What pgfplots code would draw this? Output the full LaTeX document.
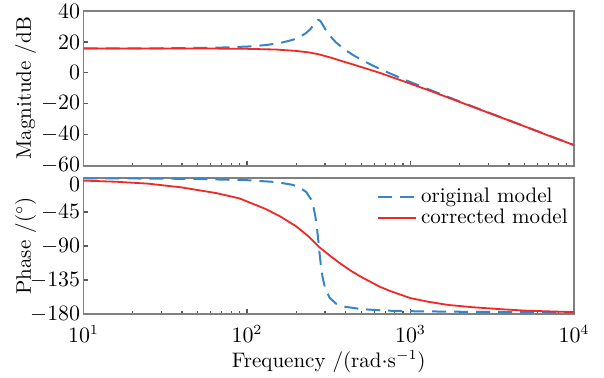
\documentclass[border=0pt]{standalone}
\usepackage{pgfplots}
\pgfplotsset{compat=1.18}
\definecolor{myblue}{RGB}{52,134,200}
\definecolor{myred}{RGB}{240,40,40}
\definecolor{framegray}{RGB}{128,128,128}

\pgfplotstableread{
w mag
10 15.81
20 15.85
40 15.98
70 16.38
100 17.02
130 17.97
160 19.34
190 21.33
210 23.20
230 25.78
245 28.48
255 30.74
262 32.46
268 33.70
272 34.17
275 34.22
278 33.98
283 33.07
290 31.24
300 28.54
320 24.19
350 19.70
400 14.74
450 11.25
500 8.51
600 4.27
700 1.01
850 -2.85
1000 -5.95
1500 -13.38
2000 -18.50
3000 -25.64
5000 -34.56
7000 -40.42
10000 -46.62
}\origmag

\pgfplotstableread{
w mag
10 15.80
30 15.79
60 15.74
100 15.55
150 15.10
200 14.20
240 13.20
275 12.00
320 10.10
371 8.00
450 5.30
550 2.40
650 0.00
800 -3.40
1000 -7.00
1400 -12.60
2000 -18.80
3000 -25.80
5000 -34.60
7000 -40.60
10000 -46.70
}\corrmag

\pgfplotstableread{
w ph
10 -0.3
30 -0.8
50 -1.3
100 -2.9
150 -5.3
190 -9.0
210 -12.4
230 -18.5
245 -27.4
255 -38.4
262 -51.1
268 -66.7
272 -79.6
275 -90.0
278 -100.2
283 -115.5
290 -131.5
300 -145.4
320 -158.5
350 -166.2
400 -170.5
500 -173.5
700 -175.5
1000 -176.3
2000 -177.0
5000 -177.5
10000 -177.8
}\origph

\pgfplotstableread{
w ph
10 -3.4
16 -5.0
25 -7.5
40 -12.5
65 -20.0
90 -27.0
130 -41.0
160 -51.0
200 -64.0
240 -78.0
275 -91.0
320 -102.5
371 -113.0
430 -122.5
500 -131.0
650 -144.0
750 -149.5
1000 -159.0
1300 -164.0
1700 -168.0
2400 -171.0
3500 -173.5
5000 -175.5
7000 -176.5
10000 -177.5
}\corrph

\begin{document}
\begin{tikzpicture}
\path[use as bounding box] (-41.75pt,5.5pt) rectangle (260.25pt,-183pt);
\pgfplotsset{
  every axis/.append style={
    scale only axis, width=245.25pt, xmode=log, xmin=10, xmax=10000,
    font=\fontsize{10.5}{12.6}\selectfont,
    axis line style={framegray, line width=0.9pt},
    tick align=inside, xtick pos=bottom, ytick pos=left,
    major tick length=2.5pt, minor tick length=1.5pt,
    every tick/.style={framegray!70!black, line width=0.6pt},
    yticklabel style={inner sep=1.5pt},
    xticklabel style={yshift=-2pt},
  }
}
\begin{axis}[
  name=top, at={(0,0)}, anchor=north west, height=77.35pt,
  ymin=-60, ymax=40, ytick={-60,-40,...,40},
  xticklabels={},
  ylabel={Magnitude /dB},
  ylabel style={at={(axis description cs:-0.118,0.5)}, anchor=center},
]
\addplot[myblue, line width=1pt, dash pattern=on 7pt off 4pt] table[x=w,y=mag] {\origmag};
\addplot[myred, line width=0.9pt] table[x=w,y=mag] {\corrmag};
\end{axis}

\begin{axis}[
  name=bot, at={(0,-83.5pt)}, anchor=north west, height=68pt,
  ymin=-180, ymax=0, ytick={-180,-135,-90,-45,0},
  yticklabels={$-180$,$-135$,$-90$,$-45$,\raisebox{-3pt}[\height][\depth]{$0$}},
  ylabel={Phase /($^\circ$)},
  ylabel style={at={(axis description cs:-0.118,0.5)}, anchor=center},
  xlabel={Frequency /(rad$\cdot$s$^{-1}$)},
  xlabel style={at={(axis description cs:0.5,0)}, anchor=center, yshift=-24pt},
  legend style={draw=none, fill=none, at={(axis description cs:1,1)}, anchor=north east,
    xshift=-1pt, yshift=-2.8pt, inner sep=0pt, row sep=-2.2pt},
  legend cell align=left,
  legend image code/.code={\draw[mark repeat=2,mark phase=2,#1] plot coordinates {(0pt,0pt) (9.5pt,0pt) (19pt,0pt)};},
]
\addplot[myblue, line width=1pt, dash pattern=on 7pt off 4pt] table[x=w,y=ph] {\origph};
\addlegendentry{original model}
\addplot[myred, line width=0.9pt] table[x=w,y=ph] {\corrph};
\addlegendentry{corrected model}
\end{axis}
\end{tikzpicture}
\end{document}
